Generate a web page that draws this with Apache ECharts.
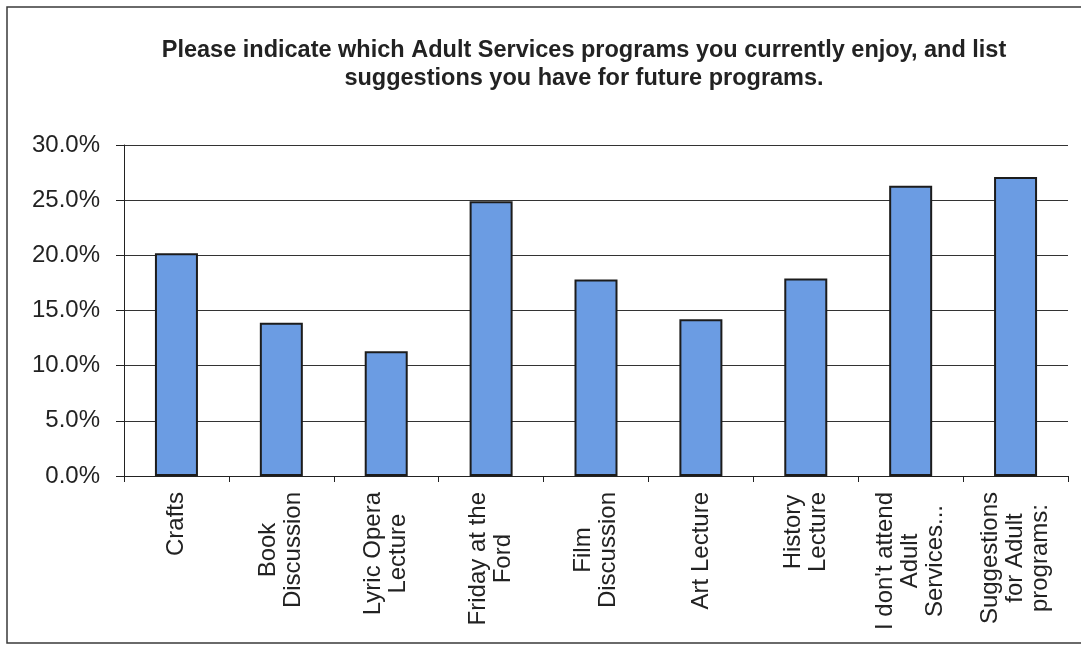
<!DOCTYPE html>
<html>
<head>
<meta charset="utf-8">
<script src="https://cdn.jsdelivr.net/npm/echarts@6/dist/echarts.min.js"></script>
<style>
html,body{margin:0;padding:0;background:#fff;}
#chart{width:1081px;height:646px;}
</style>
</head>
<body>
<div id="chart"></div>
<script>
var titleLines = ["Please indicate which Adult Services programs you currently enjoy, and list", "suggestions you have for future programs."];
var categories = ["Crafts", "Book\nDiscussion", "Lyric Opera\nLecture", "Friday at the\nFord", "Film\nDiscussion", "Art Lecture", "History\nLecture", "I don't attend\nAdult\nServices...", "Suggestions\nfor Adult\nprograms:"];
var values = [20.2, 13.9, 11.3, 24.9, 17.8, 14.2, 17.9, 26.3, 27.1];
var yTicks = [0, 5, 10, 15, 20, 25, 30];

var font = "'Liberation Sans', Arial, sans-serif";
var chart = echarts.init(document.getElementById('chart'), null, {renderer: 'canvas'});
chart.setOption({
  animation: false,
  backgroundColor: '#fff',
  graphic: [{
    type: 'rect',
    shape: {x: 7, y: 7, width: 1100, height: 636},
    style: {fill: 'none', stroke: '#3a3a3a', lineWidth: 1.5},
    silent: true
  }],
  title: {
    text: titleLines.join('\n'),
    left: 579,
    top: 32,
    textAlign: 'center',
    textStyle: {fontFamily: font, fontSize: 23.5, fontWeight: 'bold', color: '#222', lineHeight: 28}
  },
  grid: {left: 124, right: 13, top: 145, bottom: 170, containLabel: false},
  xAxis: {
    type: 'category',
    data: categories,
    boundaryGap: true,
    axisLine: {show: true, lineStyle: {color: '#222', width: 1}},
    axisTick: {show: true, length: 6, alignWithLabel: false, lineStyle: {color: '#222'}},
    axisLabel: {
      interval: 0,
      rotate: 90,
      margin: 16,
      formatter: function (v) { return '{a|' + v + '}'; },
      rich: {a: {fontFamily: font, fontSize: 24, lineHeight: 25, color: '#222', align: 'center'}}
    },
    splitLine: {show: false}
  },
  yAxis: {
    type: 'value',
    min: yTicks[0],
    max: yTicks[yTicks.length - 1],
    interval: 5,
    axisLine: {show: true, lineStyle: {color: '#222', width: 1}},
    axisTick: {show: true, length: 8, inside: false, lineStyle: {color: '#222'}},
    axisLabel: {
      margin: 24,
      fontFamily: font, fontSize: 24, color: '#222',
      formatter: function (v) { return v.toFixed(1) + '%'; }
    },
    splitLine: {show: true, lineStyle: {color: '#333', width: 1}}
  },
  series: [{
    type: 'bar',
    data: values,
    barWidth: 43,
    itemStyle: {color: '#6b9ce3', borderColor: '#1c1c1c', borderWidth: 2}
  }]
});
</script>
</body>
</html>
